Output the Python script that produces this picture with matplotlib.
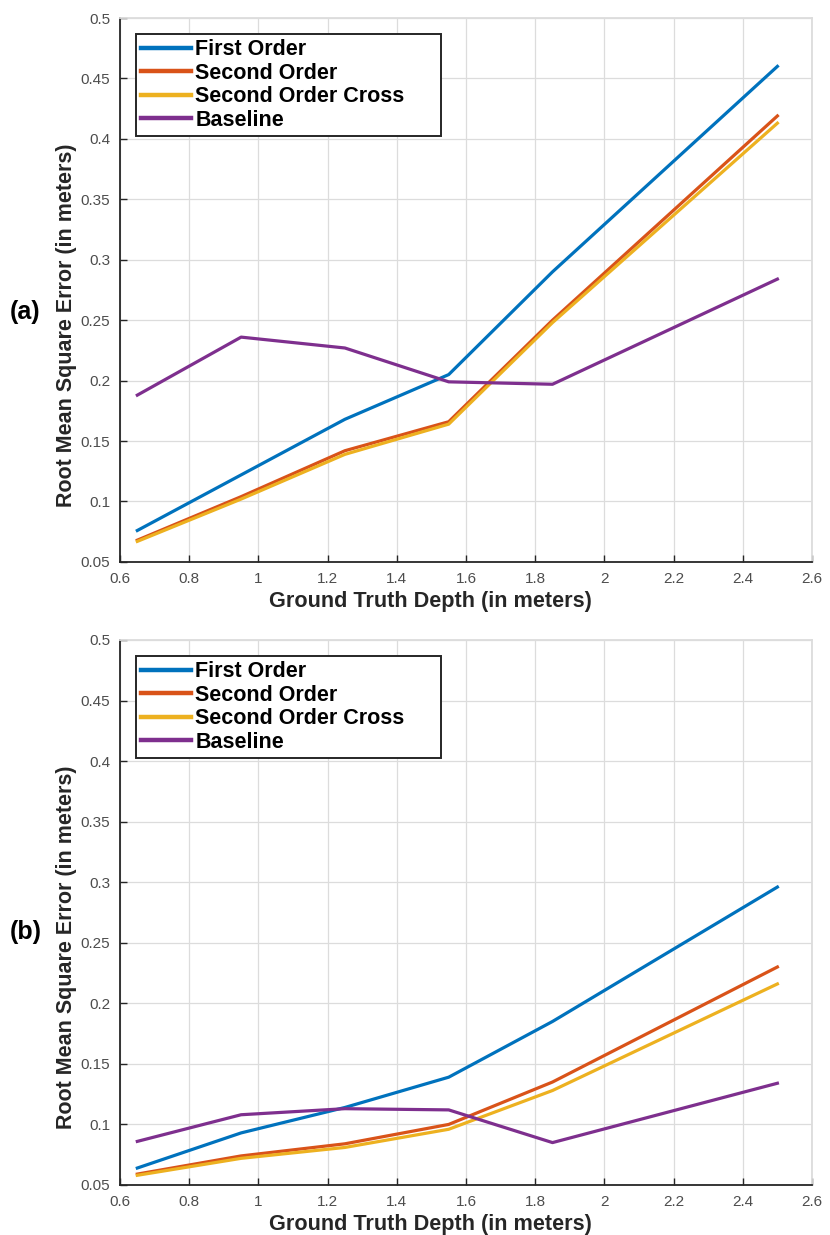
import numpy as np
import matplotlib.pyplot as plt
from matplotlib.ticker import FuncFormatter, MultipleLocator

plt.rcParams['font.family'] = ['Liberation Sans', 'DejaVu Sans']

depth = [0.65, 0.95, 1.25, 1.55, 1.85, 2.5]
series_names = ["First Order", "Second Order", "Second Order Cross", "Baseline"]
colors = ['#0072BD', '#D95319', '#EDB120', '#7E2F8E']

# panel (a)
a_first = [0.076, 0.122, 0.168, 0.205, 0.290, 0.460]
a_second = [0.068, 0.104, 0.142, 0.166, 0.250, 0.419]
a_cross = [0.067, 0.102, 0.139, 0.164, 0.248, 0.413]
a_base = [0.188, 0.236, 0.227, 0.199, 0.197, 0.284]

# panel (b)
b_first = [0.064, 0.093, 0.114, 0.139, 0.185, 0.296]
b_second = [0.059, 0.074, 0.084, 0.100, 0.135, 0.230]
b_cross = [0.058, 0.072, 0.081, 0.096, 0.128, 0.216]
b_base = [0.086, 0.108, 0.113, 0.112, 0.085, 0.134]

fig = plt.figure(figsize=(8.3, 12.35), dpi=100)
ax_a = fig.add_axes([0.1446, 0.545, 0.8337, 0.4404])
ax_b = fig.add_axes([0.1446, 0.0405, 0.8337, 0.4413])

fmt = FuncFormatter(lambda v, p: '%g' % round(v, 3))

def draw(ax, data, tag, tag_y):
    for vals, name, c in zip(data, series_names, colors):
        ax.plot(depth, vals, color=c, lw=2.3, label=name)
    ax.set_xlim(0.6, 2.6)
    ax.set_ylim(0.05, 0.5)
    ax.xaxis.set_major_locator(MultipleLocator(0.2))
    ax.yaxis.set_major_locator(MultipleLocator(0.05))
    ax.xaxis.set_major_formatter(fmt)
    ax.yaxis.set_major_formatter(fmt)
    ax.grid(True, color='#dcdcdc', lw=0.9)
    ax.set_axisbelow(True)
    ax.tick_params(direction='in', length=5, width=1.0, labelsize=11, labelcolor='#4d4d4d',
                   color='#262626', top=False, right=False)
    ax.tick_params(axis='x', pad=7)
    ax.tick_params(axis='y', pad=7)
    for s in ax.spines.values():
        s.set_color('#262626')
        s.set_linewidth(1.3)
    ax.spines['top'].set_color('#dcdcdc')
    ax.spines['right'].set_color('#dcdcdc')
    ax.set_xlabel("Ground Truth Depth (in meters)", fontsize=15.6, fontweight='bold',
                  color='#262626', labelpad=4)
    ax.set_ylabel("Root Mean Square Error (in meters)", fontsize=15.5, fontweight='bold',
                  color='#262626', labelpad=2.5)
    ax.xaxis.label.set_x(0.449)
    ax.yaxis.label.set_y(0.436)
    leg = ax.legend(loc='upper left', bbox_to_anchor=(0.023, 0.0, 0.4408, 0.971),
                    mode='expand', prop={'weight': 'bold', 'size': 15.5},
                    frameon=True, fancybox=False, framealpha=1,
                    handlelength=2.3, handletextpad=0.2, borderpad=0.25,
                    labelspacing=0.12, borderaxespad=0)
    for h in leg.get_lines():
        h.set_linewidth(3.2)
    leg.get_frame().set_edgecolor('#262626')
    leg.get_frame().set_linewidth(1.4)
    fig.text(0.012, tag_y, tag, fontsize=18, fontweight='bold', ha='left', va='center')

draw(ax_a, [a_first, a_second, a_cross, a_base], '(a)', 1 - 312 / 1235)
draw(ax_b, [b_first, b_second, b_cross, b_base], '(b)', 1 - 932 / 1235)

fig.savefig('out.png', dpi=100)
